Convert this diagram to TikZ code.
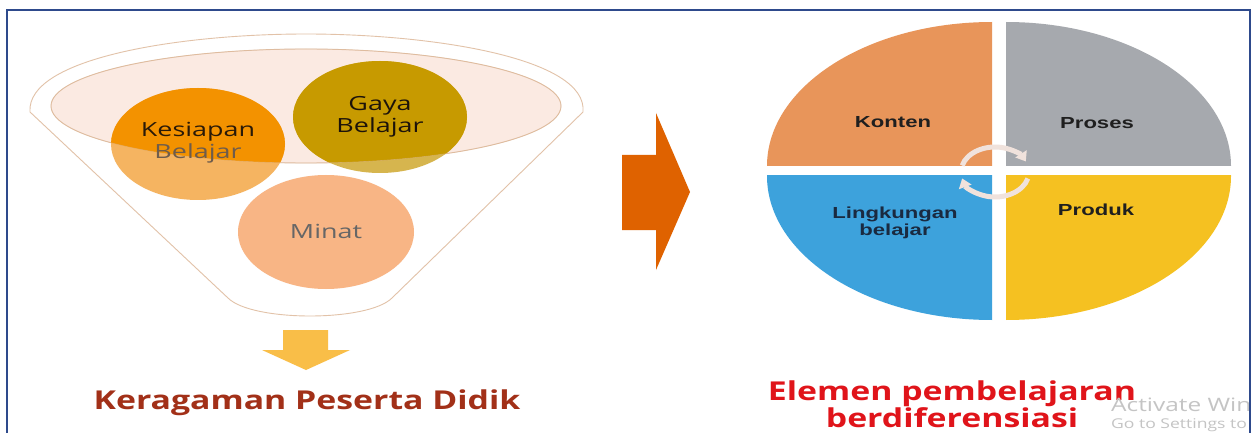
\documentclass[tikz,border=0pt]{standalone}
\usepackage{fontspec}
\setmainfont{Open Sans}
\newfontfamily\arialfont{Liberation Sans}
\usetikzlibrary{arrows.meta}

\definecolor{framblue}{HTML}{2E4A8C}
\definecolor{funnelline}{HTML}{E2C2A8}
\definecolor{pinkfill}{HTML}{FBEAE2}
\definecolor{kesiapanstrong}{HTML}{F39200}
\definecolor{kesiapanlight}{HTML}{F5B461}
\definecolor{gayastrong}{HTML}{C79A00}
\definecolor{gayalight}{HTML}{D6B54E}
\definecolor{minatfill}{HTML}{F8B585}
\definecolor{downyellow}{HTML}{F9BE48}
\definecolor{rightorange}{HTML}{DF6200}
\definecolor{kontenfill}{HTML}{E8955A}
\definecolor{prosesfill}{HTML}{A6A9AE}
\definecolor{lingkunganfill}{HTML}{3DA2DC}
\definecolor{produkfill}{HTML}{F5C121}
\definecolor{cyclecol}{HTML}{F0E2DC}
\definecolor{titlered}{HTML}{A23018}
\definecolor{elemenred}{HTML}{E0141A}
\definecolor{watergray}{HTML}{C4C4C4}
\definecolor{navytext}{HTML}{1A2A40}
\definecolor{kesiapantext}{HTML}{2A1A08}
\definecolor{belajartext}{HTML}{6E5C4C}

\newcommand{\wide}[2][1.38]{\scalebox{#1}[1]{#2}}

\tikzset{
  circlabel/.style={align=center, font=\fontsize{19.5}{22}\selectfont, inner sep=0pt},
  pielabel/.style={align=center, font=\arialfont\bfseries\fontsize{16}{17}\selectfont, inner sep=0pt, text=black!88},
  bigtitle/.style={align=center, font=\bfseries\fontsize{26}{25}\selectfont, inner sep=0pt},
  cyclearrow/.style={cyclecol, line width=5pt, -{Triangle[length=9pt,width=13pt]}},
  watermark/.style={anchor=base west, inner sep=0pt, text=watergray},
}

\begin{document}
\begin{tikzpicture}[x=1pt,y=-1pt]
\useasboundingbox (0,0) rectangle (1254,433);
\fill[white] (0,0) rectangle (1254,433);

% ---------- funnel ----------
\draw[funnelline, line width=0.9pt, fill=white]
  (30,112) .. controls (26,58) and (180,34) .. (306,34)
  .. controls (432,34) and (588,58) .. (583,112)
  -- (392,298) .. controls (368,322) and (252,322) .. (228,298) -- cycle;
\draw[funnelline, line width=0.9pt, fill=pinkfill] (306,106) ellipse [x radius=255, y radius=57];

% circles, lighter where they leave the rim ellipse
\fill[kesiapanlight] (198,144) ellipse [x radius=87, y radius=56];
\fill[gayalight] (380,117) ellipse [x radius=87, y radius=56];
\fill[minatfill] (326,232) ellipse [x radius=88, y radius=57];
\begin{scope}
  \clip (306,106) ellipse [x radius=255, y radius=57];
  \fill[kesiapanstrong] (198,144) ellipse [x radius=87, y radius=56];
  \fill[gayastrong] (380,117) ellipse [x radius=87, y radius=56];
\end{scope}
\draw[funnelline!80!brown, line width=0.6pt, opacity=0.5] (306,106) ellipse [x radius=255, y radius=57];

\node[circlabel] (kesiapan) at (198,143) {\wide{\textcolor{kesiapantext}{Kesiapan}}\\\wide{\textcolor{belajartext}{Belajar}}};
\node[circlabel, text=black!85!brown] (gaya) at (380,117) {\wide{Gaya}\\\wide{Belajar}};
\node[circlabel, text=black!60] (minat) at (326,231) {\wide{Minat}};

% ---------- downward arrow and caption ----------
\fill[downyellow] (283,330) -- (328,330) -- (328,350) -- (350,350)
  -- (306,370) -- (262,350) -- (283,350) -- cycle;
\node[bigtitle, text=titlered] (keragaman) at (307,403) {\wide[1.3]{Keragaman Peserta Didik}};

% ---------- arrow towards the elements ----------
\fill[rightorange] (622,155) -- (656,155) -- (656,113) -- (690,192)
  -- (656,270) -- (656,230) -- (622,230) -- cycle;

% ---------- four elements ----------
\begin{scope}
  \clip (760,15) rectangle (992,166);
  \fill[kontenfill] (992,166) ellipse [x radius=225, y radius=144];
\end{scope}
\begin{scope}
  \clip (1006,15) rectangle (1240,166);
  \fill[prosesfill] (1006,166) ellipse [x radius=225, y radius=144];
\end{scope}
\begin{scope}
  \clip (760,176) rectangle (992,325);
  \fill[lingkunganfill] (992,176) ellipse [x radius=225, y radius=144];
\end{scope}
\begin{scope}
  \clip (1006,176) rectangle (1240,325);
  \fill[produkfill] (1006,176) ellipse [x radius=225, y radius=144];
\end{scope}

\draw[cyclearrow] (995,172) ++(195:34 and 25) arc[start angle=195, end angle=335, x radius=34, y radius=25];
\draw[cyclearrow] (995,172) ++(15:34 and 25) arc[start angle=15, end angle=165, x radius=34, y radius=25];

\node[pielabel] (konten) at (893,122) {\wide{Konten}};
\node[pielabel] (proses) at (1097,123) {\wide{Proses}};
\node[pielabel, text=navytext] (lingkungan) at (895,223) {\wide{Lingkungan}\\\wide{belajar}};
\node[pielabel] (produk) at (1096,210) {\wide{Produk}};

\node[bigtitle, text=elemenred] (elemen) at (952,404) {\wide[1.3]{Elemen pembelajaran}\\\wide[1.3]{berdiferensiasi}};

% ---------- system watermark ----------
\node[watermark, font=\fontsize{18.5}{18}\selectfont] (activate) at (1111,411) {\wide[1.32]{Activate Win}};
\node[watermark, font=\fontsize{13.5}{14}\selectfont] (gosettings) at (1111,428) {\wide[1.3]{Go to Settings to}};

% ---------- frame ----------
\draw[framblue, line width=2.2pt] (7,440) -- (7,10) -- (1250,10) -- (1250,440);
\end{tikzpicture}
\end{document}
